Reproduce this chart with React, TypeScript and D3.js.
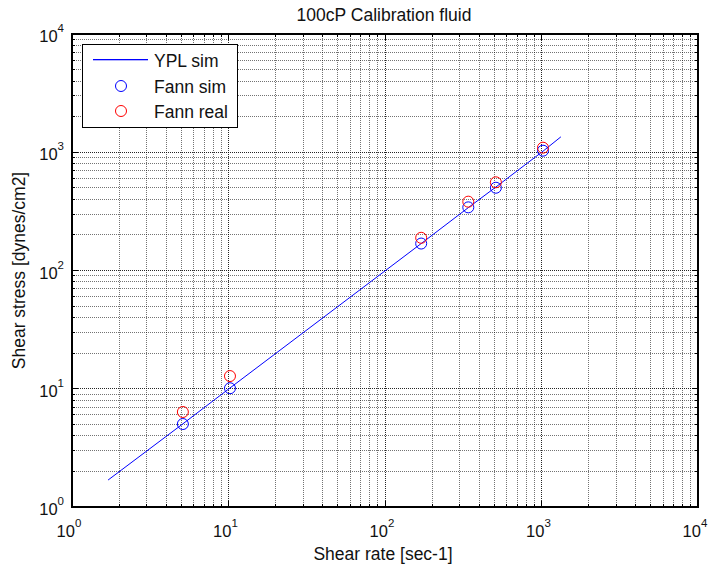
import React from "react";
import * as d3 from "d3";

const xDomain: [number, number] = [1, 10000];
const yDomain: [number, number] = [1, 10000];
const decadeExps = [0, 1, 2, 3, 4];

const lineX = [1.7, 5.11, 10.22, 170.3, 340.6, 511, 1022, 1330];
const lineY = [1.69, 5.05, 10.15, 169, 340, 508, 1020, 1350];

const fannX = [5.11, 10.22, 170.3, 340.6, 511, 1022];
const fannSimY = [5.03, 10.1, 169, 342, 501, 1031];
const fannRealY = [6.36, 12.8, 189, 382, 557, 1093];

const title = "100cP Calibration fluid";
const xLabel = "Shear rate [sec-1]";
const yLabel = "Shear stress [dynes/cm2]";
const legendItems = ["YPL sim", "Fann sim", "Fann real"];

const W = 710, H = 570;
const L = 72, R = 698, T = 34, B = 507;
const FONT = "'Liberation Sans', Arial, sans-serif";

export default function App() {
  const x = d3.scaleLog().domain(xDomain).range([L, R]);
  const y = d3.scaleLog().domain(yDomain).range([B, T]);

  const minors: number[] = [];
  for (let e = 0; e < 4; e++) for (let m = 2; m <= 9; m++) minors.push(m * Math.pow(10, e));
  const majors = decadeExps.map((e) => Math.pow(10, e));

  const line = d3.line<number>().x((_, i) => x(lineX[i])).y((_, i) => y(lineY[i]));

  const gridColor = "#000";
  return (
    <div style={{ position: "absolute", left: 0, top: 0 }}>
      <svg width={W} height={H} style={{ display: "block", background: "#fff" }} fontFamily={FONT}>
        <rect x={0} y={0} width={W} height={H} fill="#fff" />
        {/* grid */}
        <g shapeRendering="crispEdges">
          {minors.map((v, i) => (
            <g key={"m" + i}>
              <line x1={x(v)} x2={x(v)} y1={T} y2={B} stroke={gridColor} strokeOpacity={0.55} strokeDasharray="1,1" />
              <line x1={L} x2={R} y1={y(v)} y2={y(v)} stroke={gridColor} strokeOpacity={0.55} strokeDasharray="1,1" />
            </g>
          ))}
          {majors.slice(1, -1).map((v, i) => (
            <g key={"M" + i}>
              <line x1={x(v)} x2={x(v)} y1={T} y2={B} stroke={gridColor} strokeOpacity={0.85} strokeDasharray="1,1" />
              <line x1={L} x2={R} y1={y(v)} y2={y(v)} stroke={gridColor} strokeOpacity={0.85} strokeDasharray="1,1" />
            </g>
          ))}
          {/* ticks */}
          {minors.map((v, i) => (
            <g key={"t" + i} stroke="#000">
              <line x1={x(v)} x2={x(v)} y1={B} y2={B - 3} />
              <line x1={x(v)} x2={x(v)} y1={T} y2={T + 3} />
              <line x1={L} x2={L + 3} y1={y(v)} y2={y(v)} />
              <line x1={R} x2={R - 3} y1={y(v)} y2={y(v)} />
            </g>
          ))}
          {majors.map((v, i) => (
            <g key={"T" + i} stroke="#000">
              <line x1={x(v)} x2={x(v)} y1={B} y2={B - 6} />
              <line x1={x(v)} x2={x(v)} y1={T} y2={T + 6} />
              <line x1={L} x2={L + 6} y1={y(v)} y2={y(v)} />
              <line x1={R} x2={R - 6} y1={y(v)} y2={y(v)} />
            </g>
          ))}
          <rect x={L} y={T} width={R - L} height={B - T} fill="none" stroke="#000" strokeWidth={1.5} />
        </g>

        {/* data */}
        <path d={line(lineX) || ""} fill="none" stroke="#0000ff" strokeWidth={1} />
        {fannX.map((v, i) => (
          <circle key={"s" + i} cx={x(v)} cy={y(fannSimY[i])} r={5.5} fill="none" stroke="#0000ff" strokeWidth={1} />
        ))}
        {fannX.map((v, i) => (
          <circle key={"r" + i} cx={x(v)} cy={y(fannRealY[i])} r={5.5} fill="none" stroke="#ff0000" strokeWidth={1} />
        ))}

        {/* tick labels */}
        {decadeExps.map((e, i) => (
          <text key={"xl" + i} x={x(Math.pow(10, e)) - 3} y={537} fontSize={16.5} textAnchor="middle" fill="#111">
            10
            <tspan dy={-10} fontSize={11.5}>{e}</tspan>
          </text>
        ))}
        {decadeExps.map((e, i) => (
          <text key={"yl" + i} x={64} y={y(Math.pow(10, e)) + 8} fontSize={16.5} textAnchor="end" fill="#111">
            10
            <tspan dy={-10} fontSize={11.5}>{e}</tspan>
          </text>
        ))}

        {/* titles */}
        <text x={384} y={21} fontSize={17.5} textAnchor="middle" fill="#111">{title}</text>
        <text x={383} y={560} fontSize={17.5} textAnchor="middle" fill="#111">{xLabel}</text>
        <text transform={`translate(25,${(T + B) / 2}) rotate(-90)`} fontSize={17.5} textAnchor="middle" fill="#111">{yLabel}</text>

        {/* legend */}
        <g>
          <rect x={82} y={44} width={155} height={83} fill="#fff" stroke="#000" strokeWidth={1} shapeRendering="crispEdges" />
          <rect x={93} y={59} width={55} height={1.3} fill="#0000ff" />
          <circle cx={121} cy={86} r={5.5} fill="none" stroke="#0000ff" />
          <circle cx={121} cy={111} r={5.5} fill="none" stroke="#ff0000" />
          {legendItems.map((t, i) => (
            <text key={t} x={154} y={67 + i * 25.5} fontSize={17.5} fill="#111">{t}</text>
          ))}
        </g>
      </svg>
    </div>
  );
}
